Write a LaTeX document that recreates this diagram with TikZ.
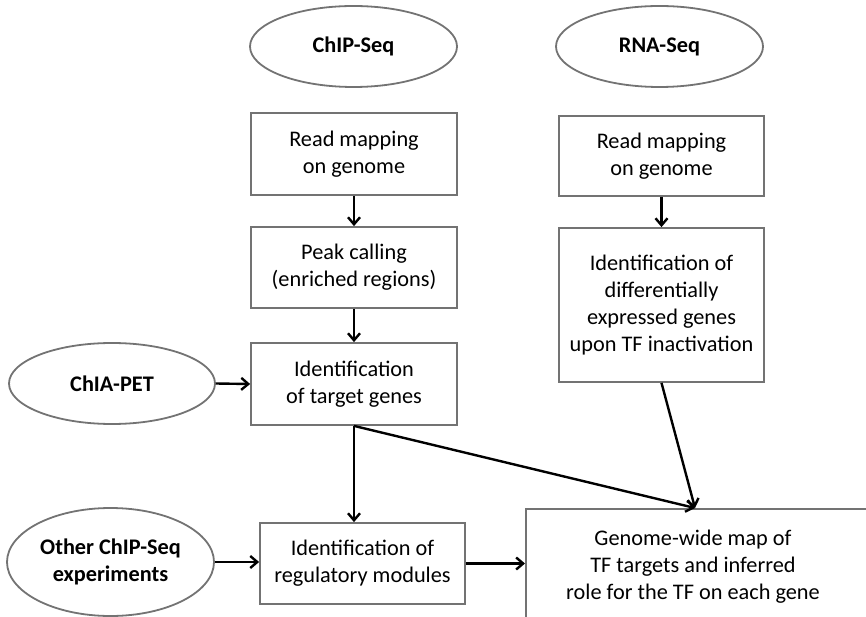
\documentclass[tikz,border=0pt]{standalone}
\usepackage{fontspec}
\setmainfont{Carlito}
\usetikzlibrary{shapes.geometric,arrows.meta}
\begin{document}
\begin{tikzpicture}[x=1pt,y=-1pt,
  every node/.style={font=\fontsize{22.3}{27}\selectfont, inner sep=0pt, align=center},
  box/.style={draw=black!55, line width=1.8pt, rectangle},
  oval/.style={draw=black!55, line width=1.8pt, ellipse, font=\fontsize{22.3}{27}\selectfont\bfseries},
  arr/.style={draw=black, line width=2.4pt, -{Straight Barb[length=7pt,width=12pt]}}]
\useasboundingbox (0,0) rectangle (866,617);
% ellipses
\node[oval, minimum width=207, minimum height=81] (chip) at (353.5,46.5) {ChIP-Seq};
\node[oval, minimum width=207, minimum height=81] (rna) at (659.5,46.5) {RNA-Seq};
\node[oval, minimum width=206, minimum height=81] (chia) at (112,383.5) {ChIA-PET};
\node[oval, minimum width=207, minimum height=108] (other) at (110.5,562) {Other ChIP-Seq\\experiments};
% left column
\node[box, minimum width=206, minimum height=82] (rm1) at (354,154) {Read mapping\\on genome};
\node[box, minimum width=206, minimum height=81] (pk) at (354,267.5) {Peak calling\\(enriched regions)};
\node[box, minimum width=206, minimum height=82] (it) at (354,384) {Identification\\of target genes};
\node[box, minimum width=205, minimum height=81] (rg) at (362.5,563.5) {Identification of\\regulatory modules};
% right column
\node[box, minimum width=205, minimum height=80] (rm2) at (661.5,156) {Read mapping\\on genome};
\node[box, minimum width=205, minimum height=154] (df) at (661.5,305) {Identification of\\differentially\\expressed genes\\upon TF inactivation};
% genome-wide map
\node[box, anchor=north west, minimum width=360, minimum height=109] (gwbox) at (525,508) {};
\node (gw) at (693,567) {Genome-wide map of\\TF targets and inferred\\role for the TF on each gene};
\coordinate (gwin) at (695,508);
% arrows
\draw[arr] (rm1.south) -- (pk.north);
\draw[arr] (pk.south) -- (it.north);
\draw[arr] (chia.east) -- (it.west);
\draw[arr] (it.south) -- (it.south |- rg.north);
\draw[arr] (it.south) -- (gwin);
\draw[arr] (rm2.south) -- (df.north);
\draw[arr] (df.south) -- (gwin);
\draw[arr] (other.east) -- (other.east -| rg.west);
\draw[arr] (rg.east) -- (rg.east -| gwbox.west);
\end{tikzpicture}
\end{document}
